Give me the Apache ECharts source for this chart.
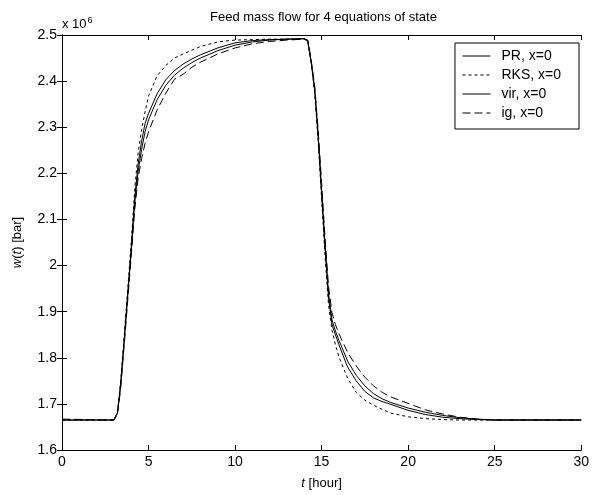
<!DOCTYPE html>
<html>
<head>
<meta charset="utf-8">
<script src="https://cdn.jsdelivr.net/npm/echarts@6/dist/echarts.min.js"></script>
<style>
  html, body { margin: 0; padding: 0; background: #fff; }
  #chart { width: 592px; height: 495px; }
</style>
</head>
<body>
<div id="chart"></div>
<script>
// time grid [hour]
const time = [0, 3, 3.1, 3.2, 3.3, 3.4, 3.6, 3.8, 4.0, 4.2, 4.4, 4.6, 4.8, 5, 5.5, 6, 6.5, 7, 7.5, 8, 9, 10, 11, 12, 13, 14,
  14.2, 14.4, 14.6, 14.8, 15, 15.2, 15.4, 15.6, 15.8, 16, 16.5, 17, 17.5, 18, 18.5, 19, 20, 21, 22, 23, 24, 25, 26, 30];

// w(t) in units of 1e6
const wPR = [1.665, 1.665, 1.668, 1.680, 1.712, 1.748, 1.844, 1.941, 2.038, 2.147, 2.220, 2.270, 2.308, 2.330, 2.373, 2.403, 2.423, 2.437, 2.448, 2.457, 2.472, 2.483, 2.488, 2.490, 2.491, 2.492,
  2.487, 2.440, 2.380, 2.280, 2.155, 2.035, 1.930, 1.872, 1.850, 1.828, 1.780, 1.750, 1.727, 1.713, 1.705, 1.699, 1.686, 1.677, 1.671, 1.668, 1.666, 1.665, 1.665, 1.665];
const wRKS = [1.665, 1.665, 1.668, 1.682, 1.716, 1.755, 1.850, 1.950, 2.050, 2.165, 2.245, 2.295, 2.333, 2.368, 2.412, 2.434, 2.450, 2.459, 2.467, 2.475, 2.485, 2.489, 2.490, 2.491, 2.491, 2.491,
  2.486, 2.440, 2.375, 2.270, 2.145, 2.020, 1.915, 1.860, 1.828, 1.802, 1.756, 1.725, 1.708, 1.697, 1.688, 1.680, 1.672, 1.668, 1.666, 1.665, 1.665, 1.665, 1.665, 1.665];
const wVir = [1.665, 1.665, 1.667, 1.679, 1.709, 1.744, 1.838, 1.935, 2.030, 2.135, 2.205, 2.252, 2.290, 2.316, 2.360, 2.391, 2.413, 2.428, 2.440, 2.450, 2.466, 2.478, 2.485, 2.489, 2.491, 2.492,
  2.488, 2.442, 2.384, 2.285, 2.165, 2.045, 1.940, 1.882, 1.858, 1.838, 1.793, 1.762, 1.739, 1.722, 1.711, 1.703, 1.691, 1.682, 1.675, 1.670, 1.667, 1.665, 1.665, 1.665];
const wIg = [1.667, 1.665, 1.667, 1.677, 1.705, 1.738, 1.830, 1.925, 2.020, 2.120, 2.190, 2.232, 2.265, 2.290, 2.338, 2.374, 2.404, 2.415, 2.430, 2.441, 2.459, 2.472, 2.481, 2.486, 2.489, 2.491,
  2.489, 2.445, 2.390, 2.295, 2.180, 2.060, 1.955, 1.898, 1.872, 1.852, 1.812, 1.782, 1.758, 1.739, 1.725, 1.715, 1.701, 1.687, 1.678, 1.671, 1.667, 1.665, 1.665, 1.665];

const seriesNames = ["PR, x=0", "RKS, x=0", "vir, x=0", "ig, x=0"];
const seriesValues = [wPR, wRKS, wVir, wIg];
const lineTypes = ["solid", [3, 3], "solid", [8, 4]];

const font = "'Liberation Sans', Arial, sans-serif";

const pairs = (ys) => time.map((t, i) => [t, ys[i]]);

const chart = echarts.init(document.getElementById("chart"));

const axisCommon = {
  axisLine: { show: true, lineStyle: { color: "#000", width: 1 } },
  axisTick: { show: true, inside: true, length: 5, lineStyle: { color: "#000" } },
  splitLine: { show: false },
};

const option = {
  animation: false,
  backgroundColor: "#fff",
  grid: { left: 62, right: 5, top: 35, bottom: 45 },
  legend: {
    data: seriesNames,
    orient: "vertical",
    right: 13,
    top: 43,
    padding: [6, 18, 9, 7],
    itemWidth: 28,
    itemHeight: 14,
    itemGap: 5,
    backgroundColor: "#fff",
    borderColor: "#000",
    borderWidth: 1,
    borderRadius: 0,
    itemStyle: { opacity: 0 },
    lineStyle: { width: 1 },
    textStyle: { color: "#000", fontFamily: font, fontSize: 14, padding: [0, 0, 0, 6] },
  },
  graphic: [
    {
      type: "text",
      left: 210,
      top: 11,
      style: {
        text: "Feed mass flow for 4 equations of state",
        fill: "#000",
        font: "13px " + font,
      },
    },
    {
      type: "text",
      left: 62,
      top: 16,
      style: {
        text: "x 10{s|6}",
        fill: "#000",
        font: "13px " + font,
        rich: { s: { fontSize: 9, verticalAlign: "top", padding: [0, 0, 7, 1], fontFamily: font } },
      },
    },
  ],
  xAxis: [
    Object.assign({}, axisCommon, {
      type: "value",
      min: 0,
      max: 30,
      interval: 5,
      axisLabel: { color: "#000", fontFamily: font, fontSize: 14, margin: 5 },
      name: "{i|t} [hour]",
      nameLocation: "middle",
      nameGap: 27,
      nameTextStyle: {
        color: "#000", fontFamily: font, fontSize: 13,
        rich: { i: { fontStyle: "italic", fontFamily: font, fontSize: 13 } },
      },
    }),
    Object.assign({}, axisCommon, {
      type: "value",
      position: "top",
      min: 0,
      max: 30,
      interval: 5,
      axisLabel: { show: false },
    }),
  ],
  yAxis: [
    Object.assign({}, axisCommon, {
      type: "value",
      min: 1.6,
      max: 2.5,
      interval: 0.1,
      axisLabel: {
        color: "#000", fontFamily: font, fontSize: 14, margin: 5,
        formatter: (v) => String(Math.round(v * 10) / 10),
      },
      name: "{i|w}({i|t}) [bar]",
      nameLocation: "middle",
      nameGap: 38,
      nameTextStyle: {
        color: "#000", fontFamily: font, fontSize: 13,
        rich: { i: { fontStyle: "italic", fontFamily: font, fontSize: 13 } },
      },
    }),
    Object.assign({}, axisCommon, {
      type: "value",
      position: "right",
      min: 1.6,
      max: 2.5,
      interval: 0.1,
      axisLabel: { show: false },
    }),
  ],
  series: seriesNames.map((name, k) => ({
    name: name,
    type: "line",
    xAxisIndex: 0,
    yAxisIndex: 0,
    data: pairs(seriesValues[k]),
    symbol: "none",
    color: "#000",
    lineStyle: { color: "#000", width: 1, type: lineTypes[k] },
  })),
};

chart.setOption(option);
</script>
</body>
</html>
